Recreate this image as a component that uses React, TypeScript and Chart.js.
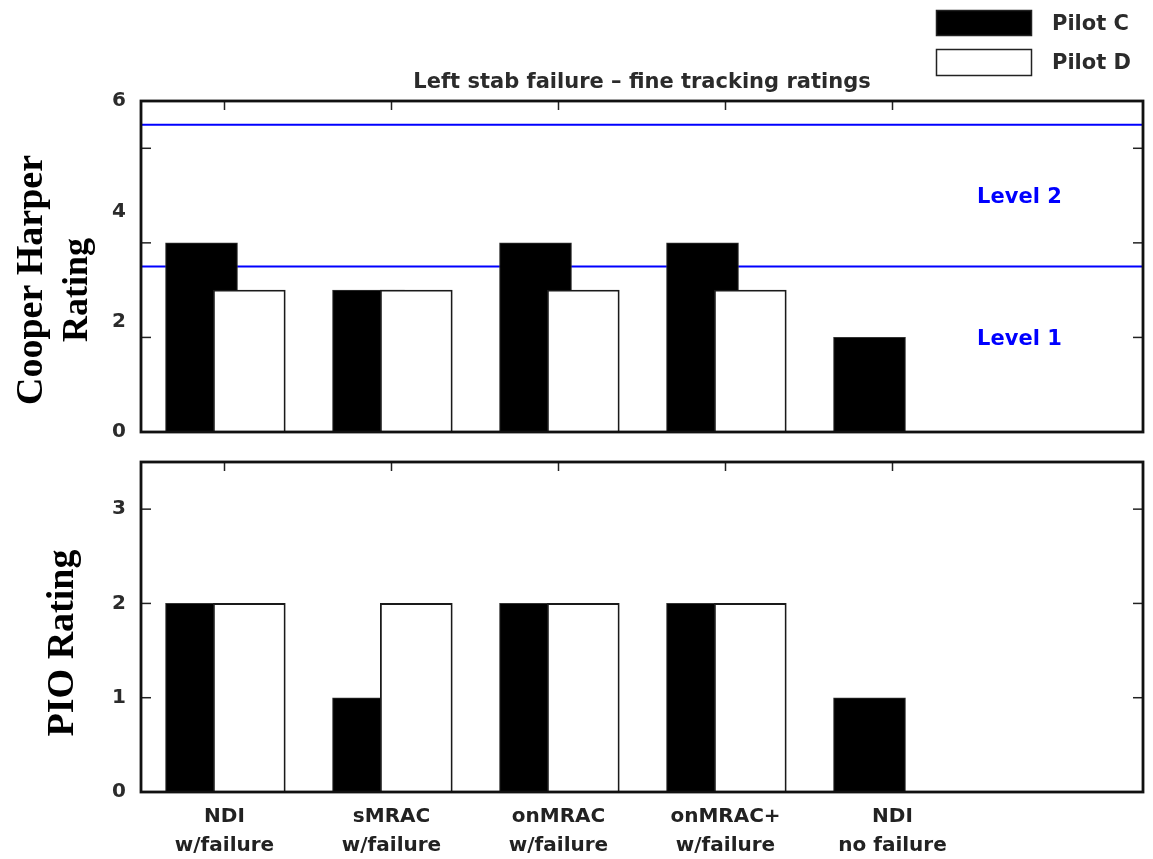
import React, { useEffect, useRef } from 'react';
import { Chart, registerables } from 'chart.js';

Chart.register(...registerables);

// ---------- data ----------
const CATEGORIES: string[][] = [
  ['NDI', 'w/failure'],
  ['sMRAC', 'w/failure'],
  ['onMRAC', 'w/failure'],
  ['onMRAC+', 'w/failure'],
  ['NDI', 'no failure'],
];
const SERIES_NAMES = ['Pilot C', 'Pilot D'];

const CH_PILOT_C = [4, 3, 4, 4, 2];
const CH_PILOT_D: (number | null)[] = [3, 3, 3, 3, null];
const PIO_PILOT_C = [2, 1, 2, 2, 1];
const PIO_PILOT_D: (number | null)[] = [2, 2, 2, 2, null];

const CH_MAX = 7;
const CH_TICK_LABELS = ['0', '2', '4', '6'];
const CH_TICK_MARKS = [2, 4, 6];
const PIO_MAX = 3.5;
const PIO_TICKS = [0, 1, 2, 3];
const PIO_TICK_MARKS = [1, 2, 3];

const LEVEL_BOUNDARIES = [3.5, 6.5];
const LEVEL_LABELS = ['Level 1', 'Level 2'];
const LEVEL_LABEL_Y = [2, 5];
const LEVEL_LABEL_X = 4.76;

const X_SLOTS = 6;
const TITLE = 'Left stab failure \u2013 fine tracking ratings';

// ---------- style ----------
const SANS = "'DejaVu Sans', 'Liberation Sans', sans-serif";
const SERIF = "'Liberation Serif', 'DejaVu Serif', serif";
const TEXT = '#2b2b2b';
const BLUE = '#0000ff';
const SHIFT_C = 0.1377;
const SHIFT_D = -0.1485;

function line(ctx: CanvasRenderingContext2D, x1: number, y1: number, x2: number, y2: number) {
  ctx.beginPath();
  ctx.moveTo(x1, y1);
  ctx.lineTo(x2, y2);
  ctx.stroke();
}

function capText(ctx: CanvasRenderingContext2D, text: string, cx: number, cy: number, size: number, align: CanvasTextAlign = 'center') {
  ctx.textAlign = align;
  ctx.textBaseline = 'alphabetic';
  ctx.fillText(text, cx, cy + size * 0.365);
}

const decorPlugin = {
  id: 'decor',
  beforeDatasetsDraw(chart: any, _args: any, opts: any) {
    const { ctx, chartArea: a } = chart;
    const x = chart.scales.x;
    const y = chart.scales.y;
    ctx.save();
    if (opts.levels) {
      ctx.strokeStyle = BLUE;
      ctx.lineWidth = 2;
      LEVEL_BOUNDARIES.forEach((v) => {
        const py = y.getPixelForValue(v);
        line(ctx, a.left, py, a.right, py);
      });
    }
    ctx.strokeStyle = '#222';
    ctx.lineWidth = 1.5;
    CATEGORIES.forEach((_c, i) => {
      const px = x.getPixelForValue(i);
      line(ctx, px, a.top, px, a.top + 9);
      line(ctx, px, a.bottom, px, a.bottom - 9);
    });
    (opts.marks as number[]).forEach((v) => {
      const py = y.getPixelForValue(v);
      line(ctx, a.left, py, a.left + 10, py);
      line(ctx, a.right, py, a.right - 10, py);
    });
    ctx.restore();
  },
  afterDatasetsDraw(chart: any, _args: any, opts: any) {
    const { ctx, chartArea: a } = chart;
    const x = chart.scales.x;
    const y = chart.scales.y;
    ctx.save();
    ctx.strokeStyle = '#111';
    ctx.lineWidth = 2.8;
    ctx.strokeRect(a.left, a.top, a.right - a.left, a.bottom - a.top);
    if (opts.levels) {
      ctx.fillStyle = BLUE;
      ctx.font = `bold 21px ${SANS}`;
      LEVEL_LABELS.forEach((t, i) => {
        capText(ctx, t, x.getPixelForValue(LEVEL_LABEL_X), y.getPixelForValue(LEVEL_LABEL_Y[i]), 21);
      });
    }
    ctx.restore();
  },
  afterDraw(chart: any, _args: any, opts: any) {
    const { ctx, chartArea: a } = chart;
    ctx.save();
    ctx.fillStyle = '#000';
    (opts.yTitle as { text: string; x: number; y: number; size: number }[]).forEach((t) => {
      ctx.save();
      ctx.font = `bold ${t.size}px ${SERIF}`;
      ctx.translate(t.x, t.y);
      ctx.rotate(-Math.PI / 2);
      ctx.textAlign = 'center';
      ctx.textBaseline = 'alphabetic';
      ctx.fillText(t.text, 0, 0);
      ctx.restore();
    });
    if (opts.header) {
      ctx.fillStyle = TEXT;
      ctx.font = `bold 21px ${SANS}`;
      capText(ctx, TITLE, (a.left + a.right) / 2, 80.5, 21);
      const ds = chart.data.datasets;
      const order = [...ds].sort((p: any, q: any) => SERIES_NAMES.indexOf(p.label) - SERIES_NAMES.indexOf(q.label));
      const rows = [
        { y: 10, h: 26, ty: 22.5 },
        { y: 49, h: 27, ty: 61 },
      ];
      order.forEach((d: any, i: number) => {
        const r = rows[i];
        ctx.fillStyle = d.backgroundColor;
        ctx.fillRect(936, r.y, 96, r.h);
        ctx.strokeStyle = '#222';
        ctx.lineWidth = 1.5;
        ctx.strokeRect(936.5, r.y + 0.5, 95, r.h - 1);
        ctx.fillStyle = TEXT;
        ctx.font = `bold 21px ${SANS}`;
        capText(ctx, d.label, 1052, r.ty, 21, 'left');
      });
    }
    ctx.restore();
  },
};

function makeConfig(kind: 'ch' | 'pio'): any {
  const isCH = kind === 'ch';
  const cVals = isCH ? CH_PILOT_C : PIO_PILOT_C;
  const dVals = isCH ? CH_PILOT_D : PIO_PILOT_D;
  const toPts = (arr: (number | null)[]) =>
    arr.map((v, i) => (v == null ? null : { x: i, y: v })).filter((p) => p !== null);
  const yMax = isCH ? CH_MAX : PIO_MAX;
  const yTickValues = isCH
    ? CH_TICK_LABELS.map((_l, i) => (i * CH_MAX) / (CH_TICK_LABELS.length - 1))
    : PIO_TICKS;
  const yTickText = isCH ? CH_TICK_LABELS : PIO_TICKS.map(String);

  return {
    type: 'bar',
    data: {
      datasets: [
        {
          label: SERIES_NAMES[0],
          data: toPts(cVals),
          xAxisID: 'xC',
          backgroundColor: '#000000',
          borderColor: '#333333',
          borderWidth: 1,
          barThickness: 72,
          grouped: false,
          order: 1,
        },
        {
          label: SERIES_NAMES[1],
          data: toPts(dVals),
          xAxisID: 'xD',
          backgroundColor: '#ffffff',
          borderColor: '#1a1a1a',
          borderWidth: 1.8,
          barThickness: 72,
          grouped: false,
          order: 0,
        },
      ],
    },
    options: {
      responsive: false,
      animation: false,
      events: [],
      layout: {
        padding: isCH
          ? { top: 101, left: 0, right: 10, bottom: 18 }
          : { top: 12, left: 0, right: 10, bottom: 0 },
      },
      plugins: {
        legend: { display: false },
        title: { display: false },
        tooltip: { enabled: false },
        decor: {
          levels: isCH,
          header: isCH,
          marks: isCH ? CH_TICK_MARKS : PIO_TICK_MARKS,
          yTitle: isCH
            ? [
                { text: 'Cooper Harper', x: 42, y: 280, size: 38 },
                { text: 'Rating', x: 87, y: 290, size: 36 },
              ]
            : [{ text: 'PIO Rating', x: 73, y: 193, size: 38 }],
        },
      },
      scales: {
        x: {
          type: 'linear',
          min: -0.5,
          max: X_SLOTS - 0.5,
          offset: false,
          display: !isCH,
          afterBuildTicks: (s: any) => {
            s.ticks = CATEGORIES.map((_c, i) => ({ value: i }));
          },
          afterFit: (s: any) => {
            s.height = isCH ? 0 : 67;
            s.paddingLeft = 0;
            s.paddingRight = 0;
          },
          ticks: {
            callback: (_v: any, i: number) => CATEGORIES[i],
            font: { family: SANS, size: 20, weight: 'bold', lineHeight: 1.42 },
            color: '#222',
            padding: 11,
            maxRotation: 0,
            minRotation: 0,
            autoSkip: false,
          },
          grid: { display: false, drawTicks: false, offset: false },
          border: { display: false },
        },
        xC: {
          type: 'linear',
          display: false,
          offset: false,
          min: -0.5 + SHIFT_C,
          max: X_SLOTS - 0.5 + SHIFT_C,
        },
        xD: {
          type: 'linear',
          display: false,
          offset: false,
          min: -0.5 + SHIFT_D,
          max: X_SLOTS - 0.5 + SHIFT_D,
        },
        y: {
          type: 'linear',
          min: 0,
          max: yMax,
          afterBuildTicks: (s: any) => {
            s.ticks = yTickValues.map((v) => ({ value: v }));
          },
          afterFit: (s: any) => {
            s.width = 141;
            s.paddingTop = 0;
            s.paddingBottom = 0;
          },
          ticks: {
            callback: (_v: any, i: number) => yTickText[i],
            font: { family: SANS, size: 20, weight: 'bold' },
            color: TEXT,
            padding: 15,
          },
          grid: { display: false, drawTicks: false },
          border: { display: false },
        },
      },
    },
    plugins: [decorPlugin],
  };
}

function ChartCanvas({ kind, top, height }: { kind: 'ch' | 'pio'; top: number; height: number }) {
  const ref = useRef<HTMLCanvasElement>(null);
  useEffect(() => {
    if (!ref.current) return;
    const chart = new Chart(ref.current, makeConfig(kind));
    return () => chart.destroy();
  }, [kind]);
  return (
    <div style={{ position: 'absolute', left: 0, top, width: 1153, height }}>
      <canvas ref={ref} width={1153} height={height} style={{ width: 1153, height, display: 'block' }} />
    </div>
  );
}

export default function App() {
  return (
    <div style={{ position: 'absolute', left: 0, top: 0, width: 1153, height: 859, background: '#fff', overflow: 'hidden' }}>
      <ChartCanvas kind="ch" top={0} height={450} />
      <ChartCanvas kind="pio" top={450} height={409} />
    </div>
  );
}
